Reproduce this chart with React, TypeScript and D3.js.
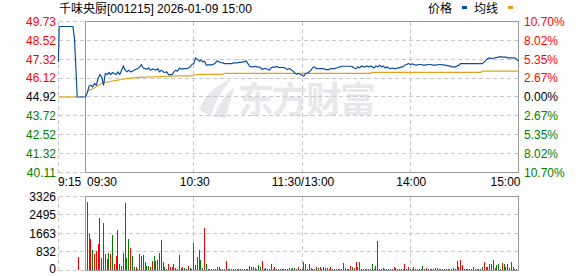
import React from 'react';
import * as d3 from 'd3';

// ---------- data ----------
const stockName = '千味央厨';
const stockCode = '[001215]';
const stampText = ' 2026-01-09 15:00';
const legendLabels = ['价格', '均线'];
const watermarkText = '东方财富';

const priceTicks = [49.73, 48.52, 47.32, 46.12, 44.92, 43.72, 42.52, 41.32, 40.11];
const pctTickLabels = ['10.70%', '8.02%', '5.35%', '2.67%', '0.00%', '2.67%', '5.35%', '8.02%', '10.70%'];
const volTicks = [3326, 2495, 1663, 832, 0];
const timeTickLabels = ['9:15', '09:30', '10:30', '11:30/13:00', '14:00', '15:00'];
const timeTickMinutes = [-15, 0, 60, 120, 180, 240];
const gridMinutes = [-15, 60, 120, 180];

// pre-market (minutes relative to 09:30)
const preTimes = [-15, -14.6, -7, -6.1, -4.6, 0];
const prePrices = [47.15, 49.41, 49.41, 48.65, 44.92, 44.92];
const preAvgTimes = [-15, -4.6];
const preAvgValues = [44.92, 44.92];

// continuous session, one value per minute from 09:30 (index 0) to 15:00 (index 240)
const prices = [
  44.92, 45.20, 45.62, 45.67, 45.56, 45.78, 45.67, 46.10, 46.35, 46.20,
  45.67, 46.42, 46.35, 46.48, 46.35, 46.48, 46.42, 46.35, 46.52, 46.35,
  46.63, 46.90, 46.63, 46.52, 46.63, 46.52, 46.56, 46.63, 46.69, 46.73,
  46.84, 46.99, 46.77, 46.73, 46.69, 46.77, 46.63, 46.69, 46.69, 46.63,
  46.73, 46.52, 46.63, 46.52, 46.48, 46.52, 46.35, 46.35, 46.35, 46.52,
  46.63, 46.56, 46.77, 46.69, 46.73, 46.73, 46.73, 46.77, 46.84, 46.99,
  47.05, 47.41, 47.33, 47.20, 47.27, 47.16, 47.20, 46.95, 46.97, 46.97,
  46.97, 47.01, 47.09, 47.22, 47.16, 47.12, 47.09, 47.05, 47.05, 47.05,
  47.05, 47.05, 47.09, 47.09, 47.09, 47.12, 47.12, 47.16, 47.16, 47.22,
  47.05, 46.88, 46.84, 46.84, 46.88, 46.84, 46.84, 46.80, 46.67, 46.73,
  46.73, 46.67, 46.63, 46.80, 46.84, 46.80, 46.88, 46.80, 46.80, 46.80,
  46.80, 46.73, 46.67, 46.73, 46.65, 46.58, 46.45, 46.37, 46.42, 46.37,
  46.31, 46.24, 46.42, 46.45, 46.52, 46.63, 46.80, 46.84, 46.73, 46.73,
  46.73, 46.73, 46.73, 46.67, 46.67, 46.67, 46.73, 46.73, 46.73, 46.77,
  46.80, 46.84, 46.88, 46.88, 46.88, 46.88, 46.88, 46.88, 46.84, 46.77,
  46.73, 46.84, 46.77, 46.90, 46.84, 46.84, 46.90, 46.84, 46.90, 46.84,
  46.77, 46.90, 46.84, 46.95, 46.84, 46.90, 46.77, 46.84, 46.77, 46.73,
  46.77, 46.73, 46.73, 46.77, 46.77, 46.84, 46.84, 46.95, 46.99, 47.05,
  46.99, 47.03, 46.99, 46.95, 46.97, 46.99, 46.99, 46.95, 46.95, 46.97,
  46.99, 46.99, 46.97, 46.95, 46.95, 46.97, 46.99, 46.99, 46.97, 46.95,
  46.93, 46.90, 46.90, 46.84, 46.84, 46.84, 46.90, 46.95, 47.05, 47.05,
  47.05, 47.05, 47.05, 47.05, 47.05, 47.05, 47.05, 47.05, 47.05, 47.05,
  47.05, 47.16, 47.27, 47.37, 47.41, 47.37, 47.39, 47.41, 47.44, 47.46,
  47.50, 47.46, 47.46, 47.46, 47.41, 47.41, 47.41, 47.41, 47.41, 47.33,
  47.20,
];

const avgTimes = [1, 2, 4, 6, 9, 10, 15, 18, 20, 24, 30, 39, 52, 59, 60, 63, 76, 77, 158, 159, 219, 220, 239, 240];
const avgValues = [45.26, 45.36, 45.43, 45.58, 45.79, 45.83, 45.94, 46.00, 46.05, 46.11, 46.17, 46.21, 46.26, 46.26, 46.32, 46.36, 46.36, 46.43, 46.43, 46.49, 46.49, 46.57, 46.57, 46.61];

// [minute, volume, up(1)/down(0)]
const preVolumeBars: [number, number, number][] = [[-4, 598, 1]];
const volumeBars: [number, number, number][] = [
  [1, 3057, 1], [2, 1618, 1], [3, 1393, 1], [4, 899, 0], [5, 719, 1], [6, 854, 1], [7, 1168, 1], [8, 2323, 1], [9, 526, 0], [10, 2112, 1],
  [11, 719, 0], [12, 494, 0], [13, 750, 0], [14, 706, 1], [15, 1573, 0], [16, 270, 1], [17, 629, 1], [18, 1798, 0], [19, 270, 1], [20, 193, 1],
  [21, 750, 1], [22, 3025, 0], [23, 539, 0], [24, 1393, 0], [25, 989, 1], [26, 629, 0], [27, 135, 0], [28, 120, 1], [29, 60, 1], [30, 719, 1],
  [31, 629, 1], [32, 674, 0], [33, 373, 0], [34, 180, 0], [35, 180, 0], [36, 120, 1], [37, 418, 1], [38, 629, 0], [39, 418, 1], [40, 449, 1],
  [41, 750, 1], [42, 1348, 0], [43, 373, 1], [44, 120, 0], [45, 60, 0], [46, 270, 1], [47, 150, 1], [48, 150, 1], [49, 270, 1], [50, 75, 0],
  [51, 45, 1], [52, 674, 1], [53, 75, 0], [54, 120, 1], [55, 75, 0], [56, 45, 1], [57, 180, 1], [58, 75, 0], [59, 45, 0], [60, 1228, 1],
  [61, 225, 1], [62, 570, 1], [63, 899, 0], [64, 449, 0], [65, 75, 0], [66, 1903, 1], [67, 270, 0], [68, 45, 1], [69, 45, 1], [70, 45, 1],
  [71, 45, 1], [72, 45, 1], [73, 120, 1], [74, 120, 1], [75, 60, 0], [76, 60, 0], [77, 60, 0], [78, 418, 1], [79, 60, 0], [80, 45, 1],
  [81, 60, 0], [82, 45, 0], [83, 60, 1], [84, 45, 1], [85, 60, 1], [86, 45, 0], [87, 60, 1], [88, 45, 1], [89, 60, 0], [90, 45, 1],
  [91, 180, 0], [92, 120, 0], [93, 120, 1], [94, 75, 1], [95, 45, 0], [96, 225, 0], [97, 120, 0], [98, 418, 1], [99, 45, 0], [100, 75, 0],
  [101, 60, 0], [102, 60, 0], [103, 270, 1], [104, 45, 1], [105, 120, 1], [106, 45, 0], [107, 45, 1], [108, 60, 0], [109, 30, 0], [110, 45, 1],
  [111, 45, 1], [112, 30, 0], [113, 75, 0], [114, 45, 1], [115, 75, 0], [116, 90, 0], [117, 45, 1], [118, 120, 1], [119, 45, 0], [120, 30, 0],
  [121, 360, 0], [122, 270, 1], [123, 45, 1], [124, 256, 0], [125, 90, 1], [126, 45, 0], [127, 45, 1], [128, 120, 1], [129, 75, 0], [130, 120, 1],
  [131, 45, 0], [132, 120, 0], [133, 105, 1], [134, 90, 1], [135, 45, 1], [136, 120, 1], [137, 45, 0], [138, 30, 1], [139, 30, 1], [140, 30, 0],
  [141, 30, 1], [142, 45, 0], [143, 300, 1], [144, 90, 1], [145, 30, 0], [146, 45, 1], [147, 180, 1], [148, 120, 0], [149, 75, 1], [150, 360, 1],
  [151, 120, 0], [152, 360, 1], [153, 45, 1], [154, 45, 1], [155, 45, 1], [156, 45, 0], [157, 45, 0], [158, 45, 1], [159, 270, 0], [160, 30, 1],
  [161, 180, 0], [162, 1303, 1], [163, 45, 0], [164, 30, 1], [165, 90, 1], [166, 30, 0], [167, 45, 0], [168, 45, 0], [169, 45, 1], [170, 30, 1],
  [171, 120, 1], [172, 90, 1], [173, 45, 1], [174, 45, 1], [175, 45, 1], [176, 45, 0], [177, 270, 1], [178, 45, 1], [179, 120, 1], [180, 45, 1],
  [181, 45, 0], [182, 120, 0], [183, 45, 1], [184, 45, 0], [185, 45, 0], [186, 45, 0], [187, 180, 0], [188, 45, 1], [189, 90, 1], [190, 45, 0],
  [191, 45, 1], [192, 45, 1], [193, 45, 0], [194, 90, 0], [195, 90, 0], [196, 45, 1], [197, 45, 1], [198, 45, 0], [199, 45, 1], [200, 45, 1],
  [201, 45, 0], [202, 45, 1], [203, 45, 0], [204, 90, 0], [205, 45, 0], [206, 418, 1], [207, 150, 1], [208, 449, 1], [209, 225, 1], [210, 45, 0],
  [211, 45, 0], [212, 45, 0], [213, 45, 1], [214, 45, 0], [215, 120, 1], [216, 45, 1], [217, 45, 1], [218, 45, 0], [219, 45, 0], [220, 120, 0],
  [221, 360, 1], [222, 120, 1], [223, 150, 1], [224, 270, 1], [225, 270, 1], [226, 449, 1], [227, 75, 0], [228, 225, 0], [229, 270, 0], [230, 45, 1],
  [231, 300, 1], [232, 270, 0], [233, 120, 1], [234, 270, 1], [235, 90, 1], [236, 360, 0], [237, 150, 1], [238, 45, 1], [239, 30, 0], [240, 1303, 0],
];

// ---------- layout ----------
const W = 578;
const H = 276;
const X0 = 85.5;
const X1 = 518.5;
const PT = 21.5;
const PB = 172.5;
const VT = 196;
const VB = 270;
const RED = '#ff0000';
const GREEN = '#008000';
const GRID = '#c8c8c8';
const BORDER = '#999999';
const BLUE = '#0b4fa1';
const ORANGE = '#e2a21c';
const FONT = "'Liberation Sans', Arial, 'Noto Sans CJK SC', sans-serif";

export default function App() {
  const x = d3.scaleLinear().domain([0, 240]).range([X0, X1]);
  const yP = d3.scaleLinear().domain([40.11, 49.73]).range([PB, PT]);
  const yV = d3.scaleLinear().domain([0, 3326]).range([VB, VT]);
  const crisp = (v: number) => Math.floor(v) + 0.5;
  const LEFT = crisp(x(-15));

  const pricePts: [number, number][] = [
    ...preTimes.map((t, i) => [t, prePrices[i]] as [number, number]),
    ...prices.map((p, i) => [i, p] as [number, number]),
  ];
  const line = d3.line<[number, number]>().x(d => x(d[0])).y(d => yP(d[1]));
  const prePts: [number, number][] = preAvgTimes.map((t, i) => [t, preAvgValues[i]]);
  const avgPts: [number, number][] = avgTimes.map((t, i) => [t, avgValues[i]]);

  const labelColor = (i: number, mid: number) => (i < mid ? RED : i === mid ? '#000' : GREEN);
  const allBars = [...preVolumeBars, ...volumeBars];

  return (
    <svg width={W} height={H} style={{ display: 'block', position: 'absolute', left: 0, top: 0 }} fontFamily={FONT}>
      <rect width={W} height={H} fill="#fff" />

      {/* watermark */}
      <g fill="#e7e7ec">
        <path d="M199,110 C204,97 214,86 231,79 C223,90 215,101 211,116 Z" />
        <path d="M214,117 C218,104 225,94 235,87 C231,97 228,107 226,118 Z" />
        <text x={238} y={113} fontSize={36} fontWeight={700} letterSpacing={-2} fontFamily="'Noto Sans CJK SC', sans-serif">{watermarkText}</text>
      </g>

      {/* grids */}
      <g stroke={GRID} strokeDasharray="4,3" shapeRendering="crispEdges" fill="none">
        {priceTicks.map((t, i) => (
          <line key={'pg' + i} x1={LEFT} x2={X1} y1={crisp(yP(t))} y2={crisp(yP(t))} />
        ))}
        {volTicks.map((t, i) => (
          <line key={'vg' + i} x1={LEFT} x2={X1} y1={crisp(yV(t))} y2={crisp(yV(t))} />
        ))}
        {gridMinutes.map((m, i) => (
          <g key={'tg' + i}>
            <line x1={crisp(x(m))} x2={crisp(x(m))} y1={PT} y2={PB} />
            <line x1={crisp(x(m))} x2={crisp(x(m))} y1={crisp(VT)} y2={crisp(VB)} />
          </g>
        ))}
      </g>

      {/* volume bars */}
      <g shapeRendering="crispEdges">
        {allBars.map(([m, v, up], i) => (
          <rect key={'b' + i} x={x(m) - 0.5} y={yV(v)} width={1} height={Math.max(1, VB - yV(v))} fill={up ? RED : GREEN} />
        ))}
      </g>

      {/* borders */}
      <g stroke={BORDER} fill="none" shapeRendering="crispEdges">
        <rect x={X0} y={PT} width={X1 - X0} height={crisp(PB) - PT} />
        <rect x={X0} y={crisp(VT)} width={X1 - X0} height={crisp(VB) - crisp(VT)} />
      </g>

      {/* lines */}
      <path d={line(prePts) || ''} fill="none" stroke={ORANGE} strokeWidth={1.2} />
      <path d={line(avgPts) || ''} fill="none" stroke={ORANGE} strokeWidth={1.2} />
      <path d={line(pricePts) || ''} fill="none" stroke={BLUE} strokeWidth={1.2} strokeLinejoin="round" />

      {/* price axis labels */}
      <g fontSize={12}>
        {priceTicks.map((t, i) => (
          <text key={'pl' + i} x={56} y={yP(t) + 4.3} textAnchor="end" fill={labelColor(i, 4)}>{t.toFixed(2)}</text>
        ))}
        {pctTickLabels.map((s, i) => (
          <text key={'rl' + i} x={524} y={yP(priceTicks[i]) + 4.3} textAnchor="start" fill={labelColor(i, 4)}>{s}</text>
        ))}
        {volTicks.map((t, i) => (
          <text key={'vl' + i} x={56} y={Math.min(yV(t) + 4.5, 272.5)} textAnchor="end" fill="#000">{t}</text>
        ))}
        {timeTickLabels.map((s, i) => {
          const px = x(timeTickMinutes[i]);
          const anchor = i === 0 || i === 1 ? 'start' : i === timeTickLabels.length - 1 ? 'end' : 'middle';
          const tx = i === 0 ? px - 0.5 : i === 1 ? px + 1.5 : i === timeTickLabels.length - 1 ? px + 2 : px + 1;
          return (
            <text key={'tl' + i} x={tx} y={185.5} textAnchor={anchor} fill="#000">{s}</text>
          );
        })}
      </g>

      {/* title */}
      <text x={59} y={13} fontSize={12} fill="#000">
        <tspan fontFamily="'Noto Sans CJK SC', sans-serif">{stockName}</tspan>
        <tspan>{stockCode}</tspan>
        <tspan>{stampText}</tspan>
      </text>

      {/* legend */}
      <g fontSize={12} fontFamily="'Noto Sans CJK SC', sans-serif" fill="#000">
        <text x={428} y={13}>{legendLabels[0]}</text>
        <rect x={462} y={6} width={5} height={3} fill={BLUE} />
        <text x={474} y={13}>{legendLabels[1]}</text>
        <rect x={508} y={6} width={5} height={3} fill={ORANGE} />
      </g>
    </svg>
  );
}
